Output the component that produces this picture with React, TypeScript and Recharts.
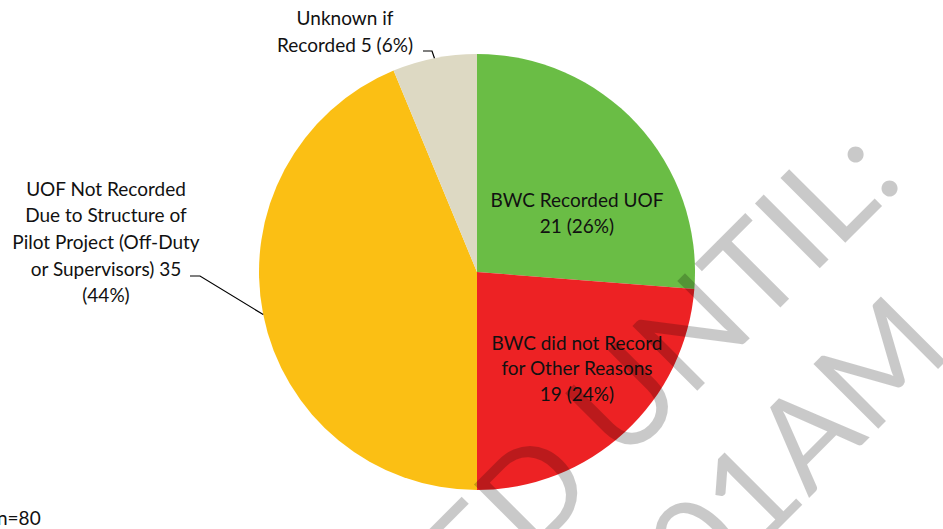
import { PieChart, Pie, Cell } from "recharts"

const categories = [
  "BWC Recorded UOF",
  "BWC did not Record for Other Reasons",
  "UOF Not Recorded Due to Structure of Pilot Project (Off-Duty or Supervisors)",
  "Unknown if Recorded",
]
const counts = [21, 19, 35, 5]
const labelLines = [
  ["BWC Recorded UOF", "21 (26%)"],
  ["BWC did not Record", "for Other Reasons", "19 (24%)"],
  ["UOF Not Recorded", "Due to Structure of", "Pilot Project (Off-Duty", "or Supervisors) 35", "(44%)"],
  ["Unknown if", "Recorded 5 (6%)"],
]
const totalLabel = "n=80"
const watermark = ["EMBARGOED UNTIL:", "12:01AM"]

const colors = ["#6abd45", "#ed2224", "#fbbf14", "#ddd9c3"]

const data = categories.map((name, i) => ({ name, value: counts[i] }))

// label placement relative to pie centre (first line centre, line gap, leader elbow)
const labelLayout = [
  { dx: 100, dy: -73, gap: 26 },
  { dx: 100, dy: 70, gap: 25.5 },
  { dx: -371, dy: -84, gap: 26.7, elbow: [-287, -277, 4] },
  { dx: -132, dy: -255, gap: 27, elbow: [-54, -45, -221] },
]

const FONT = "Lato, 'Open Sans', sans-serif"
const RAD = Math.PI / 180

function renderLabel(props: any) {
  const { cx, cy, midAngle, outerRadius, index } = props
  const lay = labelLayout[index]
  const lines = labelLines[index]
  let leader = null
  if (lay.elbow) {
    const [x1, x2, y] = lay.elbow
    const ex = cx + outerRadius * Math.cos(-midAngle * RAD)
    const ey = cy + outerRadius * Math.sin(-midAngle * RAD)
    leader = (
      <polyline
        points={`${cx + x1},${cy + y} ${cx + x2},${cy + y} ${ex},${ey}`}
        fill="none"
        stroke="#000"
        strokeWidth={1.2}
      />
    )
  }
  return (
    <g key={`lbl-${index}`}>
      {leader}
      {lines.map((t, i) => (
        <text
          key={i}
          x={cx + lay.dx}
          y={cy + lay.dy + i * lay.gap}
          textAnchor="middle"
          dominantBaseline="central"
          fontFamily={FONT}
          fontSize={19}
          fill="#111"
        >
          {t}
        </text>
      ))}
    </g>
  )
}

export default function App() {
  return (
    <div style={{ position: "absolute", left: 0, top: 0, width: 943, height: 529, overflow: "hidden", background: "#fff" }}>
      <PieChart width={943} height={529} margin={{ top: 0, right: 0, bottom: 0, left: 0 }}>
        <Pie
          data={data}
          dataKey="value"
          nameKey="name"
          cx={477}
          cy={272}
          outerRadius={218}
          startAngle={90}
          endAngle={-270}
          stroke="none"
          label={renderLabel}
          labelLine={false}
          isAnimationActive={false}
        >
          {data.map((d, i) => (
            <Cell key={d.name} fill={colors[i]} />
          ))}
        </Pie>
      </PieChart>
      <svg width={943} height={529} style={{ position: "absolute", left: 0, top: 0, pointerEvents: "none" }}>
        <text x={-3} y={525} fontFamily={FONT} fontSize={19} fill="#111">{totalLabel}</text>
        <g fill="#000" fillOpacity={0.21} fontFamily={FONT} fontSize={128}>
          <text transform="translate(906,182) rotate(-45)" textAnchor="end">{watermark[0]}</text>
          <text transform="translate(954,353) rotate(-45)" textAnchor="end">{watermark[1]}</text>
        </g>
      </svg>
    </div>
  )
}
